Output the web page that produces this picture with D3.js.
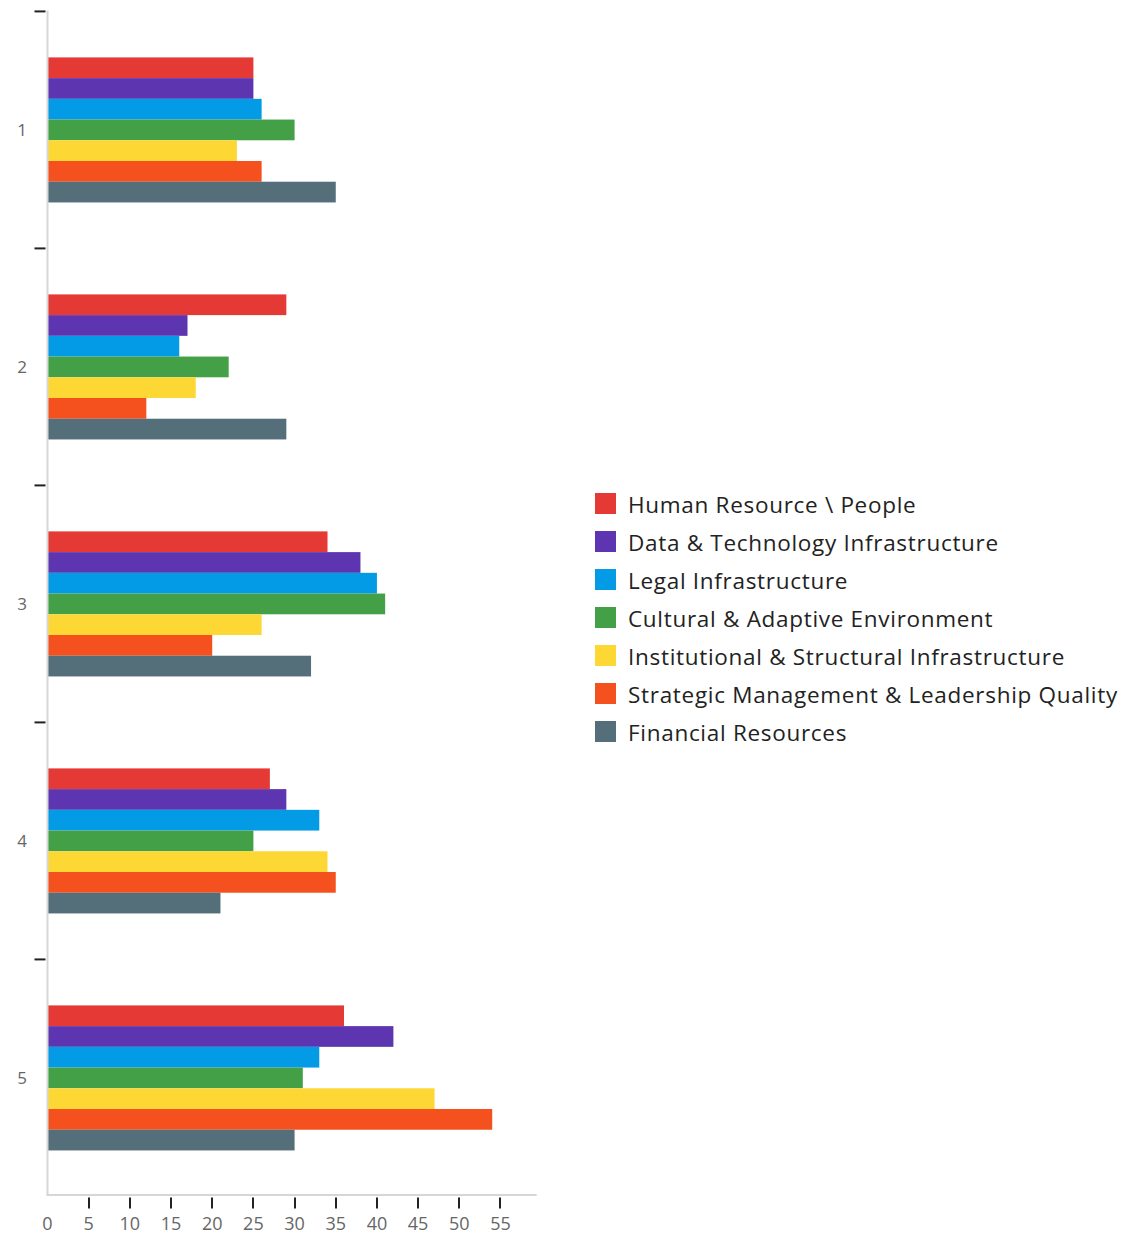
<!DOCTYPE html>
<html>
<head>
<meta charset="utf-8">
<script src="https://cdn.jsdelivr.net/npm/d3@7"></script>
<style>
  html, body { margin: 0; padding: 0; background: #fff; }
  svg { display: block; }
  text { font-family: "Open Sans", "Noto Sans", sans-serif; }
</style>
</head>
<body>
<svg id="chart" width="1134" height="1235"></svg>
<script>
// Groups shown down the vertical axis
const groups = ["1", "2", "3", "4", "5"];

// Series names (legend order = bar order within a group)
const series = [
  "Human Resource \\ People",
  "Data & Technology Infrastructure",
  "Legal Infrastructure",
  "Cultural & Adaptive Environment",
  "Institutional & Structural Infrastructure",
  "Strategic Management & Leadership Quality",
  "Financial Resources"
];

// Values per series, one entry per group
const humanResource   = [25, 29, 34, 27, 36];
const dataTechnology  = [25, 17, 38, 29, 42];
const legalInfra      = [26, 16, 40, 33, 33];
const cultural        = [30, 22, 41, 25, 31];
const institutional   = [23, 18, 26, 34, 47];
const strategic       = [26, 12, 20, 35, 54];
const financial       = [35, 29, 32, 21, 30];

const seriesValues = [humanResource, dataTechnology, legalInfra, cultural, institutional, strategic, financial];

// X axis tick labels
const xTicks = [0, 5, 10, 15, 20, 25, 30, 35, 40, 45, 50, 55];

const colors = ["#e53935", "#5e35b1", "#039be5", "#43a047", "#fdd835", "#f4511e", "#546e7a"];

const svg = d3.select("#chart");

const plot = { left: 47.5, right: 536.7, top: 10.5, bottom: 1195.5 };

const maxVal = d3.max(seriesValues.flat());
const x = d3.scaleLinear()
  .domain([0, maxVal * 1.1])
  .range([plot.left, plot.right]);

const y0 = d3.scaleBand()
  .domain(groups)
  .range([plot.top, plot.bottom])
  .paddingInner(0.388)
  .paddingOuter(0.194)
  .align(0.51);

const y1 = d3.scaleBand()
  .domain(series)
  .range([0, y0.bandwidth()]);

const color = d3.scaleOrdinal().domain(series).range(colors);

// Bars
const rows = groups.map((g, gi) => ({
  group: g,
  values: series.map((s, si) => ({ key: s, value: seriesValues[si][gi] }))
}));

const gGroups = svg.append("g").selectAll("g")
  .data(rows)
  .join("g")
  .attr("transform", d => `translate(0,${y0(d.group)})`);

gGroups.selectAll("rect")
  .data(d => d.values)
  .join("rect")
  .attr("x", x(0))
  .attr("y", d => y1(d.key))
  .attr("width", d => x(d.value) - x(0))
  .attr("height", y1.bandwidth())
  .attr("fill", d => color(d.key));

// Vertical axis line
svg.append("line")
  .attr("x1", plot.left).attr("x2", plot.left)
  .attr("y1", plot.top).attr("y2", plot.bottom)
  .attr("stroke", "#d6d6d6").attr("stroke-width", 2);

// Horizontal baseline
svg.append("line")
  .attr("x1", plot.left - 1).attr("x2", plot.right)
  .attr("y1", plot.bottom - 0.5).attr("y2", plot.bottom - 0.5)
  .attr("stroke", "#d6d6d6").attr("stroke-width", 2);

// Group separator ticks on the vertical axis
const step = y0.step();
const sepY = groups.map(g => y0(g) - (y0.paddingInner() / 2) * step);
svg.append("g").selectAll("line")
  .data(sepY)
  .join("line")
  .attr("x1", plot.left - 13).attr("x2", plot.left - 2)
  .attr("y1", d => d).attr("y2", d => d)
  .attr("stroke", "#222").attr("stroke-width", 2);

// Group labels
svg.append("g").selectAll("text")
  .data(groups)
  .join("text")
  .attr("x", 22)
  .attr("y", d => y0(d) + y0.bandwidth() / 2)
  .attr("dy", "0.35em")
  .attr("text-anchor", "middle")
  .attr("font-size", 17)
  .attr("fill", "#666")
  .text(d => d);

// X axis ticks and labels
const xAxis = svg.append("g");
xAxis.selectAll("line")
  .data(xTicks.filter(t => t > 0))
  .join("line")
  .attr("x1", d => Math.round(x(d))).attr("x2", d => Math.round(x(d)))
  .attr("y1", plot.bottom + 2).attr("y2", plot.bottom + 13)
  .attr("stroke", "#222").attr("stroke-width", 2);

xAxis.selectAll("text")
  .data(xTicks)
  .join("text")
  .attr("x", d => x(d))
  .attr("y", plot.bottom + 34)
  .attr("text-anchor", "middle")
  .attr("font-size", 18)
  .attr("fill", "#666")
  .text(d => d);

// Legend
const legend = svg.append("g").attr("transform", "translate(595,493)");
const items = legend.selectAll("g")
  .data(series)
  .join("g")
  .attr("transform", (d, i) => `translate(0,${i * 38})`);

items.append("rect")
  .attr("width", 21).attr("height", 21)
  .attr("fill", d => color(d));

items.append("text")
  .attr("x", 33)
  .attr("y", 12)
  .attr("dy", "0.35em")
  .attr("font-size", 22.5)
  .attr("letter-spacing", 0.7)
  .attr("fill", "#222")
  .text(d => d);
</script>
</body>
</html>
